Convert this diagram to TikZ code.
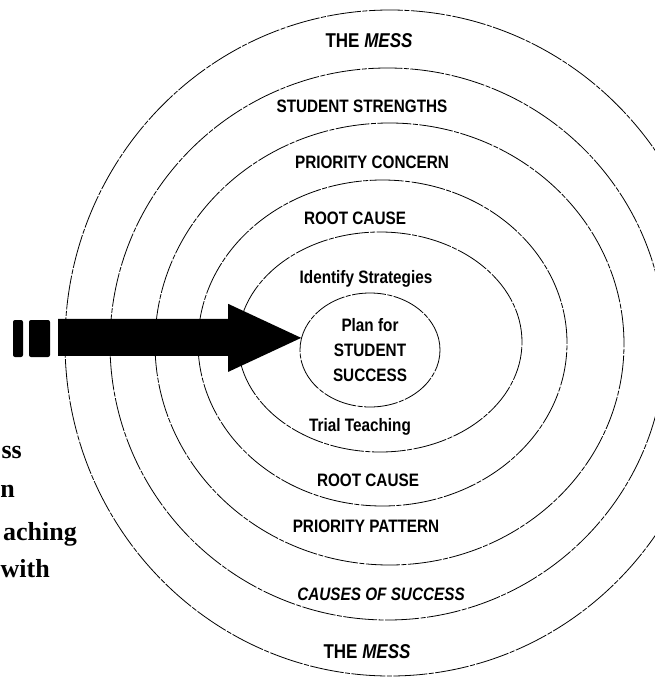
\documentclass[tikz,border=0pt]{standalone}
\usepackage{fontspec}
\usepackage{tikz}
\usetikzlibrary{shapes.geometric}
\newfontfamily\lblfont{Liberation Sans}[FakeStretch=0.85]
\newfontfamily\sidefont{Liberation Serif}

\tikzset{
  ring/.style={line width=0.8pt, dash pattern=on 34pt off 1.5pt on 5pt off 1.5pt},
  lbl/.style={font=\lblfont\bfseries\fontsize{18}{25}\selectfont, inner sep=0pt},
  biglbl/.style={font=\lblfont\bfseries\fontsize{20}{24}\selectfont, inner sep=0pt},
  side/.style={font=\sidefont\bfseries\fontsize{26}{30}\selectfont, anchor=base east, inner sep=0pt}
}

\begin{document}
\begin{tikzpicture}[x=1pt,y=-1pt]
\clip (0,0) rectangle (655,677);
\fill[white] (0,0) rectangle (655,677);

% rings, outer to inner
\foreach \cx/\cy/\rx/\ry in {390/343/325/333, 387.5/344/277.5/276, 389.5/344/234.5/221, 382.5/343/184.5/163, 380/342/142/110}{
  \draw[ring] (\cx,\cy) ellipse [x radius=\rx pt, y radius=\ry pt];
}
\node[draw, ring, ellipse, minimum width=140pt, minimum height=114pt, lbl, align=center] (plan) at (370,350) {Plan for\\STUDENT\\SUCCESS};

% labels, top half
\node[biglbl] (messtop) at (369,41) {THE \textit{MESS}};
\node[lbl] (strengths) at (362,106) {STUDENT STRENGTHS};
\node[lbl] (concern) at (372,162) {PRIORITY CONCERN};
\node[lbl] (causetop) at (355,218) {ROOT CAUSE};
\node[lbl] (strategies) at (366,279) {Identify Strategies};

% labels, bottom half
\node[lbl] (trial) at (360,427) {Trial Teaching};
\node[lbl] (causebot) at (368,480) {ROOT CAUSE};
\node[lbl] (pattern) at (366,526) {PRIORITY PATTERN};
\node[lbl, font=\lblfont\bfseries\itshape\fontsize{18}{25}\selectfont] (success) at (381,594) {CAUSES OF SUCCESS};
\node[biglbl] (messbot) at (367,652) {THE \textit{MESS}};

% big arrow into the plan
\fill (plan.170) -- ++(-73,-34) -- ++(0,15) -- ++(-170,0) -- ++(0,37) -- ++(170,0) -- ++(0,16) -- cycle;
\fill[rounded corners=2pt] (13,320) rectangle (23,357);
\fill[rounded corners=2pt] (29,320) rectangle (50,357);

% text at the left edge
\node[side] (side1) at (22,458) {ss};
\node[side] (side2) at (15,497) {n};
\node[side] (side3) at (77,540) {aching};
\node[side] (side4) at (50,577) {with};
\end{tikzpicture}
\end{document}
